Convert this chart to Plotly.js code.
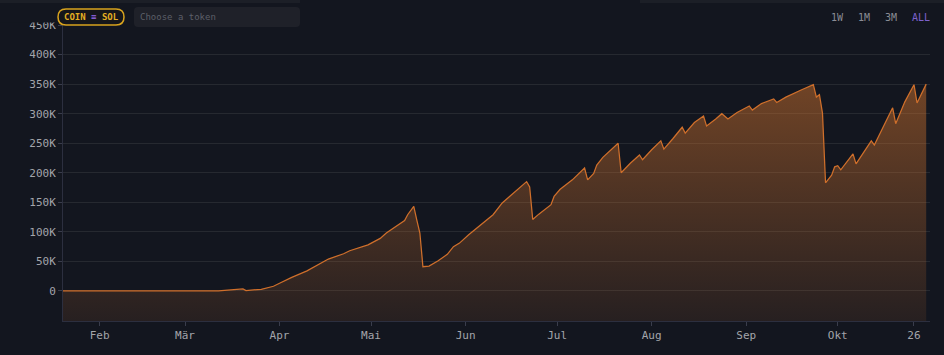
<!DOCTYPE html>
<html>
<head>
<meta charset="utf-8">
<script src="https://cdn.plot.ly/plotly-3.0.1.min.js"></script>
<style>
html,body{margin:0;padding:0;background:#13161f;}
#chart{width:944px;height:355px;}
</style>
</head>
<body>
<div id="chart"></div>
<script>
// ---- data ----
const dates = [
'2025-01-20','2025-02-10','2025-03-01','2025-03-12','2025-03-20','2025-03-21','2025-03-26','2025-03-30',
'2025-04-01','2025-04-05','2025-04-10','2025-04-14','2025-04-17','2025-04-22','2025-04-24','2025-04-30',
'2025-05-04','2025-05-06','2025-05-09','2025-05-12','2025-05-13','2025-05-15','2025-05-16','2025-05-17',
'2025-05-18','2025-05-20','2025-05-23','2025-05-26','2025-05-28','2025-05-30',
'2025-06-02','2025-06-06','2025-06-10','2025-06-13','2025-06-15','2025-06-18','2025-06-21','2025-06-22',
'2025-06-23','2025-06-25','2025-06-29','2025-06-30',
'2025-07-02','2025-07-06','2025-07-10','2025-07-11','2025-07-13','2025-07-14','2025-07-16','2025-07-21',
'2025-07-22','2025-07-25','2025-07-28','2025-07-29',
'2025-08-01','2025-08-04','2025-08-05','2025-08-08','2025-08-11','2025-08-12','2025-08-15','2025-08-18',
'2025-08-19','2025-08-22','2025-08-24','2025-08-26','2025-08-29',
'2025-09-02','2025-09-03','2025-09-06','2025-09-10','2025-09-11','2025-09-14','2025-09-19','2025-09-23',
'2025-09-24','2025-09-25','2025-09-26','2025-09-27','2025-09-29','2025-09-30',
'2025-10-01','2025-10-02','2025-10-06','2025-10-07','2025-10-12','2025-10-13','2025-10-19','2025-10-20',
'2025-10-23','2025-10-26','2025-10-27','2025-10-30'
];
const values = [
0,0,0,300,3500,800,2800,8000,
13000,23000,34000,46000,54000,63000,68000,78000,
89000,98000,108000,119000,129000,143000,120000,98000,
41000,42000,51000,62000,75000,81000,
95000,112000,129000,149000,158000,171000,185000,176000,
121000,130000,146000,160000,
172000,188000,208000,188000,199000,213000,226000,250000,
200000,216000,230000,222000,
239000,254000,240000,258000,277000,267000,285000,296000,
279000,291000,300000,291000,302000,
313000,306000,317000,325000,319000,328000,340000,349000,
328000,332000,301000,183000,196000,210000,
212000,205000,232000,215000,254000,247000,310000,283000,
320000,349000,318000,350000
];
const xTickVals = ['2025-02-01','2025-03-01','2025-04-01','2025-05-01','2025-06-01','2025-07-01','2025-08-01','2025-09-01','2025-10-01','2025-10-26'];
const xTickText = ['Feb','Mär','Apr','Mai','Jun','Jul','Aug','Sep','Okt','26'];
const yTickVals = [0,50000,100000,150000,200000,250000,300000,350000,400000,450000];
const yTickText = ['0','50K','100K','150K','200K','250K','300K','350K','400K','450K'];
const rangeButtons = ['1W','1M','3M','ALL'];

const Y_MIN = -50800, Y_MAX = 450000;
const X_RANGE = ['2025-01-20', '2025-10-31 06:00'];

const BG = '#13161f';
const MONO = '"DejaVu Sans Mono", "Liberation Mono", monospace';

// baseline at the bottom of the plot so area fills down to the pane bottom
const base = {
  x: [dates[0], dates[dates.length-1]], y: [Y_MIN, Y_MIN],
  mode: 'lines', line: {width: 0, color: 'rgba(0,0,0,0)'},
  hoverinfo: 'skip', showlegend: false
};
const area = {
  x: dates, y: values, mode: 'lines', fill: 'tonexty',
  line: {color: '#cf6f2b', width: 1.25},
  fillgradient: {type: 'vertical', colorscale: [[0, 'rgba(217,119,46,0.10)'], [1, 'rgba(217,119,46,0.47)']]},
  showlegend: false
};

// paper coordinate helpers (plot area: x 63..930, y 25..321 in page px)
const L = 63, R = 930, T = 25, B = 321;
const px = v => (v - L) / (R - L);
const py = v => (B - v) / (B - T);

function roundRect(hw, hh, r) {
  return `M ${-hw + r},${hh} L ${hw - r},${hh} Q ${hw},${hh} ${hw},${hh - r} L ${hw},${-hh + r} Q ${hw},${-hh} ${hw - r},${-hh} ` +
         `L ${-hw + r},${-hh} Q ${-hw},${-hh} ${-hw},${-hh + r} L ${-hw},${hh - r} Q ${-hw},${hh} ${-hw + r},${hh} Z`;
}

const shapes = [
  // header strip clipping the top of the pane (hides upper half of the top tick label)
  {type: 'rect', xref: 'paper', yref: 'paper', x0: px(0), x1: px(61), y0: py(22.5), y1: py(0), fillcolor: BG, line: {width: 0}, layer: 'above'},
  {type: 'rect', xref: 'paper', yref: 'paper', x0: px(0), x1: px(300), y0: py(3), y1: py(0), fillcolor: '#1c1f27', line: {width: 0}, layer: 'above'},
  {type: 'rect', xref: 'paper', yref: 'paper', x0: px(640), x1: px(944), y0: py(3), y1: py(0), fillcolor: '#1c1f27', line: {width: 0}, layer: 'above'},
  {type: 'path', xref: 'paper', yref: 'paper', xsizemode: 'pixel', ysizemode: 'pixel',
   xanchor: px(91), yanchor: py(17), path: roundRect(33, 8, 8), fillcolor: '#15161a', line: {color: '#d8a31e', width: 1.5}, layer: 'above'},
  {type: 'path', xref: 'paper', yref: 'paper', xsizemode: 'pixel', ysizemode: 'pixel',
   xanchor: px(217), yanchor: py(17), path: roundRect(83, 10, 4), fillcolor: '#1f2129', line: {width: 0}, layer: 'above'}
];

const btnX = [837, 864, 891, 921];
const annotations = [
  {xref: 'paper', yref: 'paper', x: px(91), y: py(17), xanchor: 'center', yanchor: 'middle', showarrow: false,
   text: '<b>COIN</b> <span style="color:#9b6cf0">≡</span> <b>SOL</b>', font: {family: MONO, size: 9, color: '#e2ae22'}},
  {xref: 'paper', yref: 'paper', x: px(138), y: py(17), xanchor: 'left', yanchor: 'middle', showarrow: false,
   text: 'Choose a token', font: {family: MONO, size: 9, color: '#5c5f68'}}
].concat(rangeButtons.map((t, i) => ({
  xref: 'paper', yref: 'paper', x: px(btnX[i]), y: py(17), xanchor: 'center', yanchor: 'middle', showarrow: false,
  text: t, font: {family: MONO, size: 10, color: t === 'ALL' ? '#7d61cc' : '#8b8d95'}
})));

const layout = {
  width: 944, height: 355,
  margin: {l: L, r: 944 - R, t: T, b: 355 - B, pad: 0},
  paper_bgcolor: BG, plot_bgcolor: BG,
  showlegend: false,
  xaxis: {
    type: 'date', range: X_RANGE, tickmode: 'array', tickvals: xTickVals, ticktext: xTickText,
    ticks: 'outside', ticklen: 4, tickcolor: '#3a3d4c', showgrid: false, zeroline: false,
    showline: true, linecolor: '#2c2f3f', linewidth: 1,
    tickfont: {family: MONO, size: 11, color: '#a3a5ab'}, fixedrange: true
  },
  yaxis: {
    range: [Y_MIN, Y_MAX], tickmode: 'array', tickvals: yTickVals, ticktext: yTickText,
    ticks: 'outside', ticklen: 4, tickcolor: '#3a3d4c', showgrid: true, gridcolor: '#262930', gridwidth: 1,
    zeroline: false, showline: true, linecolor: '#2c2f3f', linewidth: 1,
    tickfont: {family: MONO, size: 11, color: '#a3a5ab'}, fixedrange: true
  },
  shapes: shapes,
  annotations: annotations
};

Plotly.newPlot('chart', [base, area], layout, {displayModeBar: false, staticPlot: true});
</script>
</body>
</html>
